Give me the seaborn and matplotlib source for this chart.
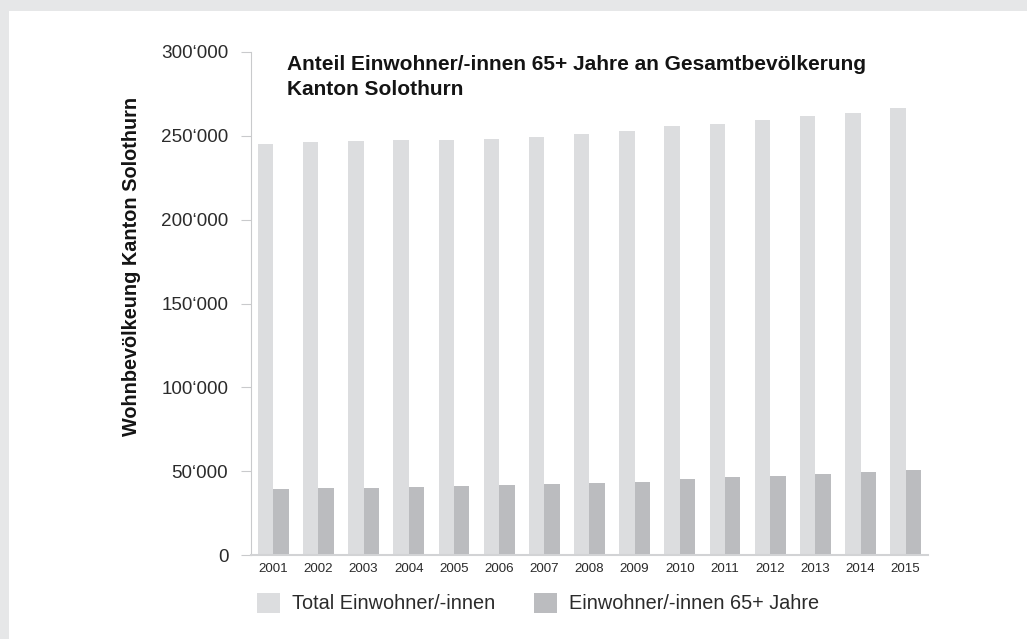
import matplotlib
matplotlib.use("Agg")
import matplotlib.pyplot as plt
from matplotlib.patches import Rectangle, Patch
from matplotlib.ticker import FuncFormatter, MultipleLocator
import seaborn as sns
import pandas as pd

# ---- data ----
years = ["2001", "2002", "2003", "2004", "2005", "2006", "2007", "2008",
         "2009", "2010", "2011", "2012", "2013", "2014", "2015"]
total_pop = [245200, 246200, 246800, 247400, 247800, 248200, 249600, 251200,
             252600, 255600, 257200, 259500, 261800, 263900, 266700]
senior_pop = [39200, 39700, 40100, 40500, 40900, 41500, 42100, 42900,
              43700, 45200, 46400, 47400, 48400, 49400, 50400]
series_names = ["Total Einwohner/-innen", "Einwohner/-innen 65+ Jahre"]
colors = ["#dcdddf", "#bbbcbf"]
title_lines = ["Anteil Einwohner/-innen 65+ Jahre an Gesamtbevölkerung",
               "Kanton Solothurn"]
y_label = "Wohnbevölkeung Kanton Solothurn"

df = pd.DataFrame({
    "Jahr": years * 2,
    "Wert": total_pop + senior_pop,
    "Serie": [series_names[0]] * len(years) + [series_names[1]] * len(years),
})

sns.set_style("white")
plt.rcParams["font.family"] = ["Liberation Sans", "DejaVu Sans"]

W, H = 1027, 639
fig = plt.figure(figsize=(W / 100, H / 100), dpi=100, facecolor="white")

# gray frame strips (top and left)
fig.patches.append(Rectangle((0, 1 - 11 / H), 1, 11 / H, transform=fig.transFigure,
                             facecolor="#e6e7e8", edgecolor="none", zorder=0))
fig.patches.append(Rectangle((0, 0), 9 / W, 1, transform=fig.transFigure,
                             facecolor="#e6e7e8", edgecolor="none", zorder=0))

left, right, top, bottom = 250.7, 928.3, 52, 555
ax = fig.add_axes([left / W, (H - bottom) / H, (right - left) / W, (bottom - top) / H])
ax.set_facecolor("white")

sns.barplot(data=df, x="Jahr", y="Wert", hue="Serie", palette=colors,
            width=0.68, saturation=1, linewidth=0, ax=ax, legend=False,
            errorbar=None)

ax.set_xlim(-0.5, len(years) - 0.5)
ax.set_ylim(0, 300000)
ax.yaxis.set_major_locator(MultipleLocator(50000))
ax.yaxis.set_major_formatter(FuncFormatter(
    lambda v, p: "0" if v == 0 else f"{int(v):,}".replace(",", "\u2018")))
ax.set_xlabel("")
ax.set_ylabel("")

for s in ["top", "right"]:
    ax.spines[s].set_visible(False)
ax.spines["left"].set_color("#c9cacc")
ax.spines["left"].set_linewidth(0.8)
ax.spines["bottom"].set_color("#d2d3d5")
ax.spines["bottom"].set_linewidth(1.5)

ax.tick_params(axis="y", which="major", length=7.2, width=0.8, color="#c9cacc",
               labelsize=13.6, labelcolor="#2b2b2b", pad=8.9, left=True)
ax.tick_params(axis="x", which="major", length=0, labelsize=9.6,
               labelcolor="#2b2b2b", pad=5.5)

# y label
fig.text(131.7 / W, 1 - 266.7 / H, y_label, rotation=90, ha="center", va="center",
         fontsize=14.3, fontweight="bold", color="#141414")

# title (two lines)
fig.text(287 / W, 1 - 69.5 / H, title_lines[0], ha="left", va="baseline",
         fontsize=15, fontweight="bold", color="#141414")
fig.text(287 / W, 1 - 95 / H, title_lines[1], ha="left", va="baseline",
         fontsize=15, fontweight="bold", color="#141414")

# legend
fs = 14.3
fs_px = fs * 100 / 72
handles = [Patch(facecolor=c, edgecolor="none", label=n) for c, n in zip(colors, series_names)]
fig.legend(handles=handles, loc="center left",
           bbox_to_anchor=(256.7 / W, 1 - 603 / H), ncol=2, frameon=False,
           fontsize=fs, handlelength=23 / fs_px, handleheight=23 / fs_px,
           handletextpad=12 / fs_px, columnspacing=39 / fs_px,
           borderpad=0, borderaxespad=0, labelcolor="#2b2b2b")

fig.savefig("out.png", dpi=100, facecolor="white")
